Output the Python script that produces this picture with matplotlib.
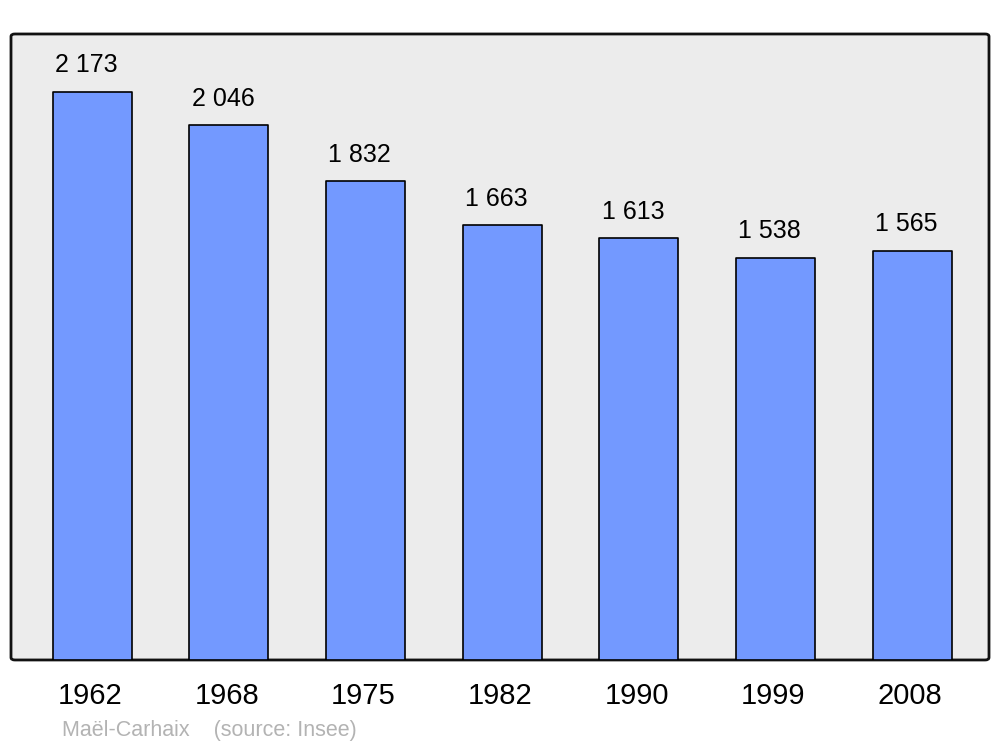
import matplotlib
matplotlib.use("Agg")
import matplotlib.pyplot as plt
from matplotlib.patches import FancyBboxPatch

years = ["1962", "1968", "1975", "1982", "1990", "1999", "2008"]
population = [2173, 2046, 1832, 1663, 1613, 1538, 1565]
value_labels = ["2 173", "2 046", "1 832", "1 663", "1 613", "1 538", "1 565"]

plt.rcParams['font.family'] = ['Liberation Sans', 'DejaVu Sans']

fig = plt.figure(figsize=(10, 7.47), dpi=100)
ax = fig.add_axes([0.011, 0.1165, 0.978, 0.838])
ax.set_facecolor('none')

# fond gris avec coins arrondis
frame = FancyBboxPatch((0, 0), 1, 1, boxstyle="round,pad=0,rounding_size=0.004",
                       transform=ax.transAxes, facecolor='#ececec',
                       edgecolor='#111111', linewidth=2, zorder=0, clip_on=False)
ax.add_patch(frame)

x = list(range(len(years)))
ax.bar(x, population, width=0.578, color='#7399ff', edgecolor='black',
       linewidth=1.2, joinstyle='round', zorder=2)

for xi, v, lab in zip(x, population, value_labels):
    ax.annotate(lab, (xi, v), xytext=(-4, 10.5), textcoords='offset points',
                ha='center', va='bottom', fontsize=18, color='black')

ax.set_xlim(-0.593, 6.563)
ax.set_ylim(0, 2395)
for s in ax.spines.values():
    s.set_visible(False)
ax.set_yticks([])
ax.set_xticks([xi - 0.015 for xi in x])
ax.set_xticklabels(years, fontsize=21)
ax.tick_params(axis='x', length=0, pad=16)

fig.text(0.062, 0.008, "Maël-Carhaix    (source: Insee)", fontsize=15.5,
         color='#b3b3b3', ha='left', va='bottom')

fig.savefig('out.png', dpi=100)
